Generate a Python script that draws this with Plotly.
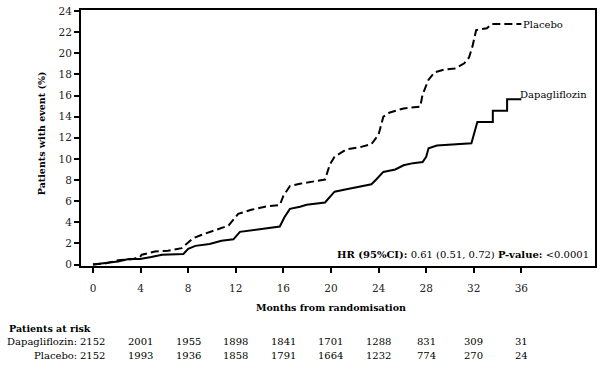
import plotly.graph_objects as go

# ---- data ----
dapa_months = [0, 1.0, 2.1, 3.0, 3.95, 4.9, 5.8, 7.6, 8.0, 8.6, 9.8, 10.8, 11.8, 12.35, 13.6, 14.6,
               15.7, 16.1, 16.55, 17.4, 17.95, 19.5, 20.3, 21.2, 22.1, 23.4, 23.8, 24.4, 25.4, 26.1,
               26.9, 27.7, 28.0, 28.2, 28.9, 30.4, 31.8, 32.3, 33.6, 33.6, 34.8, 34.8, 36.0]
dapa_pct = [0, 0.15, 0.3, 0.53, 0.53, 0.71, 0.93, 1.0, 1.49, 1.77, 1.95, 2.26, 2.39, 3.1, 3.3, 3.4,
            3.6, 4.5, 5.27, 5.48, 5.67, 5.88, 6.9, 7.1, 7.28, 7.6, 8.05, 8.77, 9.0, 9.4,
            9.6, 9.7, 10.2, 11.0, 11.27, 11.4, 11.48, 13.5, 13.5, 14.56, 14.56, 15.64, 15.64]

placebo_months = [0, 1.0, 2.1, 3.4, 3.95, 4.1, 5.2, 6.3, 7.45, 7.9, 8.4, 9.1, 10.2, 11.4, 12.2, 13.3,
                  14.45, 15.7, 16.0, 16.55, 17.4, 18.8, 19.5, 19.9, 20.3, 21.3, 22.4, 23.4, 24.0, 24.4,
                  24.95, 26.1, 27.5, 27.7, 28.2, 28.7, 29.5, 30.4, 31.2, 31.6, 31.9, 32.2, 33.1, 33.5, 36.0]
placebo_pct = [0, 0.1, 0.4, 0.53, 0.72, 0.93, 1.24, 1.3, 1.55, 1.95, 2.48, 2.8, 3.2, 3.7, 4.8, 5.18,
               5.48, 5.64, 6.5, 7.43, 7.65, 7.9, 8.05, 9.45, 10.2, 10.9, 11.1, 11.4, 12.3, 14.0,
               14.4, 14.78, 14.95, 16.1, 17.5, 18.2, 18.45, 18.55, 19.05, 19.6, 20.7, 22.2, 22.37, 22.77, 22.77]

x_ticks = [0, 4, 8, 12, 16, 20, 24, 28, 32, 36]
y_ticks = [0, 2, 4, 6, 8, 10, 12, 14, 16, 18, 20, 22, 24]

risk_dapa = [2152, 2001, 1955, 1898, 1841, 1701, 1288, 831, 309, 31]
risk_placebo = [2152, 1993, 1936, 1858, 1791, 1664, 1232, 774, 270, 24]

FONT = "DejaVu Serif"
TXT = dict(family=FONT, size=10, color="black")
TXTB = dict(family=FONT, size=9.5, color="black")

fig = go.Figure()
fig.add_trace(go.Scatter(x=placebo_months, y=placebo_pct, mode="lines",
                         line=dict(color="black", width=2, dash="8px,4px"),
                         name="Placebo", showlegend=False, hoverinfo="skip"))
fig.add_trace(go.Scatter(x=dapa_months, y=dapa_pct, mode="lines",
                         line=dict(color="black", width=2),
                         name="Dapagliflozin", showlegend=False, hoverinfo="skip"))

ann = []
ann.append(dict(x=placebo_months[-1], y=placebo_pct[-1], xref="x", yref="y", xshift=0,
                text="Placebo", showarrow=False, xanchor="left", yanchor="middle", font=TXT))
ann.append(dict(x=dapa_months[-1], y=dapa_pct[-1], xref="x", yref="y", yshift=5, xshift=-3,
                text="Dapagliflozin", showarrow=False, xanchor="left", yanchor="middle", font=TXT))
ann.append(dict(x=0.99, y=0.05, xref="paper", yref="paper", xanchor="right", yanchor="middle",
                text="<b>HR (95%CI):</b> 0.61 (0.51, 0.72) <b>P-value:</b> &lt;0.0001",
                showarrow=False, font=TXT))
ann.append(dict(x=-0.074, y=0.518, xref="paper", yref="paper", textangle=-90,
                text="<b>Patients with event (%)</b>", showarrow=False,
                xanchor="center", yanchor="middle", font=TXTB))
ann.append(dict(x=(331 - 80) / 516, y=0, xref="paper", yref="paper", yshift=-40.5,
                text="<b>Months from randomisation</b>", showarrow=False,
                xanchor="center", yanchor="middle", font=TXTB))
ann.append(dict(x=-73 / 516, y=0, xref="paper", yref="paper", yshift=-61.5,
                text="<b>Patients at risk</b>", showarrow=False,
                xanchor="left", yanchor="middle", font=TXTB))
ann.append(dict(x=-1 / 516, y=0, xref="paper", yref="paper", yshift=-74.2,
                text="Dapagliflozin:", showarrow=False, xanchor="right", yanchor="middle", font=TXT))
ann.append(dict(x=-1 / 516, y=0, xref="paper", yref="paper", yshift=-88.5,
                text="Placebo:", showarrow=False, xanchor="right", yanchor="middle", font=TXT))
for xv, a, b in zip(x_ticks, risk_dapa, risk_placebo):
    ann.append(dict(x=xv, y=0, xref="x", yref="paper", yshift=-74.2, text=str(a),
                    showarrow=False, xanchor="center", yanchor="middle", font=TXT))
    ann.append(dict(x=xv, y=0, xref="x", yref="paper", yshift=-88.5, text=str(b),
                    showarrow=False, xanchor="center", yanchor="middle", font=TXT))

fig.update_layout(
    width=603, height=371,
    margin=dict(l=80, r=7, t=5, b=103.5),
    paper_bgcolor="white", plot_bgcolor="white",
    annotations=ann,
    font=TXT,
    shapes=[dict(type="rect", xref="paper", yref="paper", x0=0, x1=1, y0=0, y1=1,
                 line=dict(color="black", width=2), layer="above")],
)
fig.update_xaxes(range=[-1.09, 42.27], tickvals=x_ticks, ticks="outside", ticklen=5,
                 tickwidth=1.5, tickcolor="black", showgrid=False, zeroline=False,
                 showline=False, ticklabelstandoff=6,
                 tickfont=dict(family=FONT, size=10.5, color="#222"))
fig.update_yaxes(range=[-0.23, 24.19], tickvals=y_ticks, ticks="outside", ticklen=5,
                 tickwidth=1.5, tickcolor="black", showgrid=False, zeroline=False,
                 showline=False, tickfont=dict(family=FONT, size=10.5, color="#222"))

fig.write_html("out.html", config={"displayModeBar": False},
               post_script="document.body.style.margin='0';")
